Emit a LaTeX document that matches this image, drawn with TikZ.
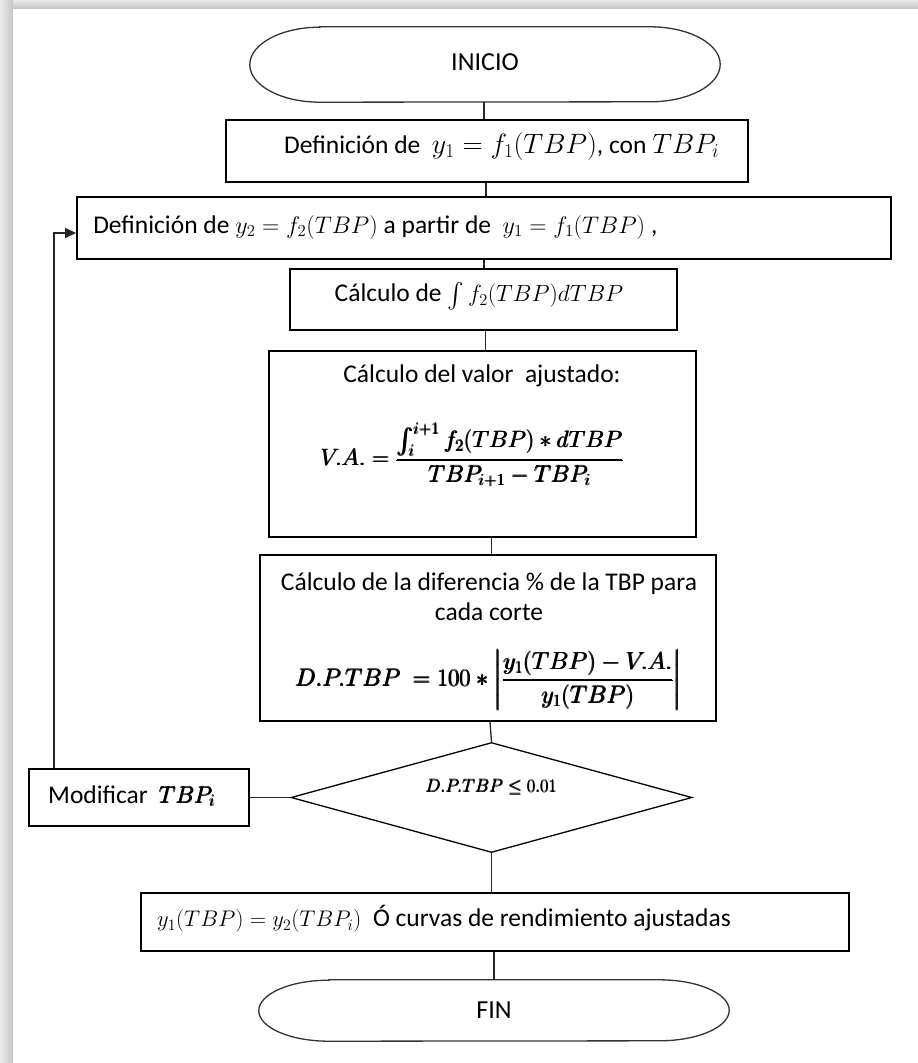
\RequirePackage{fix-cm}
\documentclass[tikz,border=0pt]{standalone}
\usepackage{amsmath}
\usepackage{fontspec}
\setmainfont{Carlito}
\usetikzlibrary{arrows.meta,shapes.geometric}
\newcommand{\fs}[1]{\fontsize{#1}{30}\selectfont}
\newcommand{\formVA}{\fs{23.6}$\pmb{V.A. = {\displaystyle\frac{\int_i^{i+1} f_2(TBP) \ast dTBP}{TBP_{i+1} - TBP_i}}}$}
\newcommand{\formDP}{\fs{24.4}$\pmb{D.P.TBP\ = 100 \ast \left|{\displaystyle\frac{y_1(TBP) - V.A.}{y_1(TBP)}}\right|}$}
\newcommand{\formDec}{\fs{18}$\pmb{D.P.TBP \leq 0.01}$}
\newcommand{\formMod}{\fs{23.5}$\pmb{TBP_i}$}
\begin{document}
\begin{tikzpicture}[x=1pt,y=-1pt,
  box/.style={draw=black, line width=1.8pt, inner sep=0pt},
  term/.style={draw=black!80, line width=1.3pt},
  link/.style={draw=black!85, line width=1.3pt},
  txt/.style={inner sep=0pt, font=\fs{25.5}},
]
\useasboundingbox (0,0) rectangle (918,1063);
% page
\fill[gray!30] (0,0) rectangle (918,1063);
\shade[top color=gray!18, bottom color=gray!48] (0,0) rectangle (918,9);
\shade[left color=gray!15, right color=gray!45] (0,0) rectangle (13,1063);
\fill[white] (13,9) rectangle (918,1063);

% INICIO terminal
\node[inner sep=0pt, minimum width=470pt, minimum height=75pt, font=\fs{26}] (inicio) at (485,64.5) {\raisebox{4pt}{INICIO}};
\draw[term] ([xshift=70pt]inicio.north west) -- ([xshift=-70pt]inicio.north east)
  arc[start angle=90, end angle=-90, x radius=70pt, y radius=37.5pt]
  -- ([xshift=70pt]inicio.south west)
  arc[start angle=270, end angle=90, x radius=70pt, y radius=37.5pt] -- cycle;

% boxes
\node[box, minimum width=522pt, minimum height=62pt] (b1) at (487,151) {};
\node[box, minimum width=814pt, minimum height=62pt] (b2) at (484,228) {};
\node[box, minimum width=387pt, minimum height=61pt] (b3) at (483.5,299.5) {};
\node[box, minimum width=427pt, minimum height=186pt] (b4) at (482.5,444) {};
\node[box, minimum width=456pt, minimum height=166pt] (b5) at (488,638) {};
\node[draw=black, line width=1.3pt, diamond, inner sep=0pt, minimum width=401pt, minimum height=110pt] (dec) at (491.5,797.5) {};
\node[box, minimum width=220pt, minimum height=57pt] (mod) at (139,797.5) {};
\node[box, minimum width=708pt, minimum height=58pt] (b6) at (495,922) {};

% FIN terminal
\node[inner sep=0pt, minimum width=470pt, minimum height=61pt, font=\fs{26}] (fin) at (494,1010.5) {FIN};
\draw[term] ([xshift=70pt]fin.north west) -- ([xshift=-70pt]fin.north east)
  arc[start angle=90, end angle=-90, x radius=70pt, y radius=30.5pt]
  -- ([xshift=70pt]fin.south west)
  arc[start angle=270, end angle=90, x radius=70pt, y radius=30.5pt] -- cycle;

% connectors
\draw[link] ([xshift=-1pt]inicio.south) -- ([xshift=-1pt]inicio.south |- b1.north);
\draw[link] ([xshift=-1pt]b1.south) -- ([xshift=-1pt]b1.south |- b2.north);
\draw[link] (b2.south) -- (b2.south |- b3.north);
\draw[link] ([xshift=2pt]b3.south) -- ([xshift=2pt]b3.south |- b4.north);
\draw[link] ([xshift=9pt]b4.south) -- ([xshift=9pt]b4.south |- b5.north);
\draw[link] ([xshift=2pt]b5.south) -- (dec.north);
\draw[link] (dec.south) -- (dec.south |- b6.north);
\draw[link] ([xshift=-1pt]b6.south) -- ([xshift=-1pt]b6.south |- fin.north);
\draw[link] (dec.west) -- (mod.east);
\draw[link, -{Triangle[length=11pt,width=10pt]}] ([xshift=26pt]mod.north west) |- ([yshift=-5pt]b2.west);

% texts
\node[txt, anchor=west] (b1t) at (284,146) {Definición de \ {\fs{28}$y_1 = f_1(TBP)$}, con {\fs{28}$TBP_i$}};
\node[txt, anchor=west] (b2t) at ([xshift=17pt,yshift=1pt]b2.west) {Definición de {\fs{24}$y_2 = f_2(TBP)$} a partir de \ {\fs{24}$y_1 = f_1(TBP)$} ,};
\node[txt] (b3t) at (479,296) {Cálculo de {\fs{23.5}$\int f_2(TBP)dTBP$}};
\node[txt] (b4t) at (482,376) {Cálculo del valor \ ajustado:};
\node[txt, align=center] (b5t) at (489,597) {Cálculo de la diferencia \% de la TBP para\\cada corte};
\node[txt, anchor=west] (b6t) at (157,919) {{\fs{22.6}$y_1(TBP) = y_2(TBP_i)$} \ Ó curvas de rendimiento ajustadas};
\node[txt] (dect) at (491.5,787) {\formDec};
\node[txt, anchor=west] (modt) at (48,796) {Modificar \ {\formMod}};
\node[txt] (b4f) at (472.5,455) {\formVA};
\node[txt] (b5f) at (489,680) {\formDP};
\end{tikzpicture}
\end{document}
